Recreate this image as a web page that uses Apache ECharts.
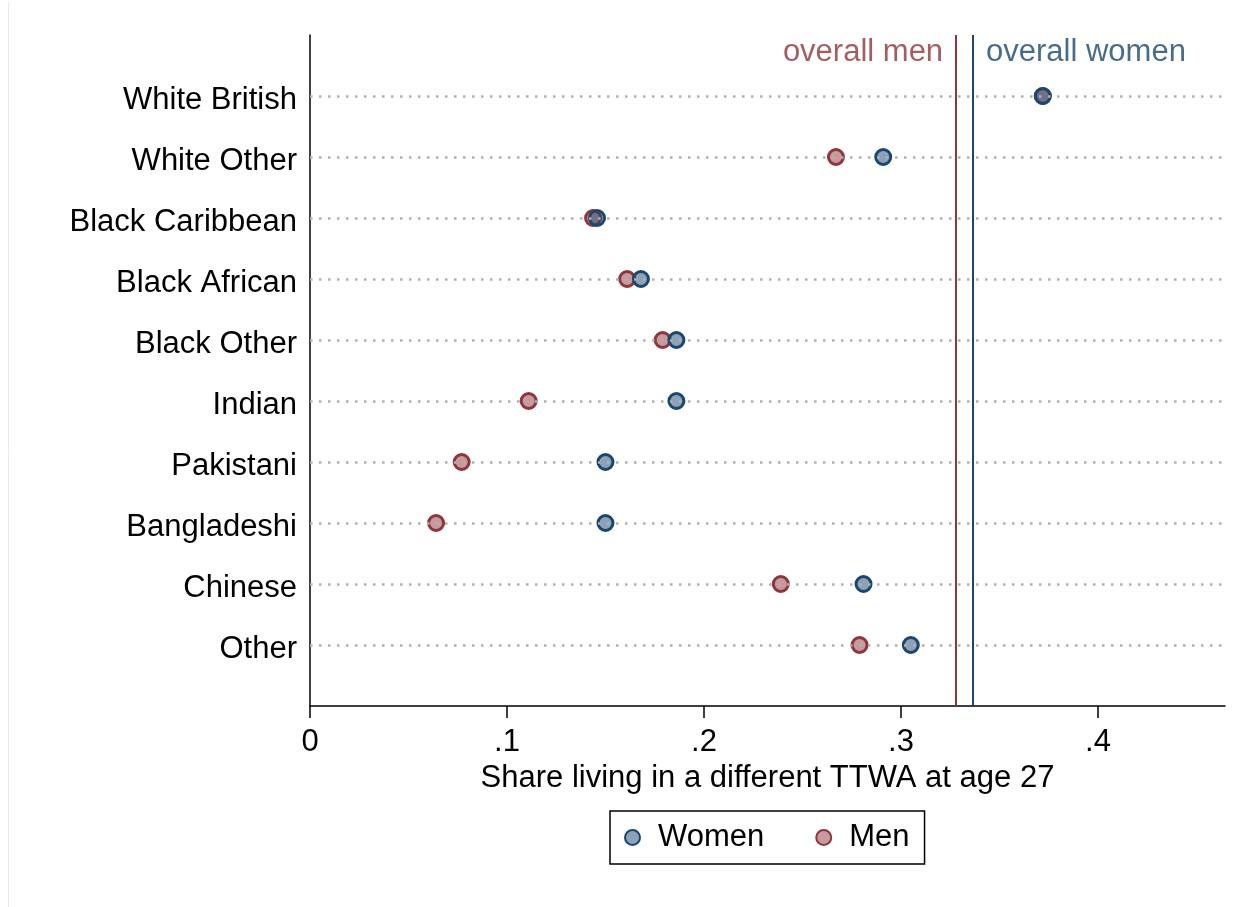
<!DOCTYPE html>
<html>
<head>
<meta charset="utf-8">
<script src="https://cdn.jsdelivr.net/npm/echarts@6/dist/echarts.min.js"></script>
<style>html,body{margin:0;padding:0;background:#fff;}#c{width:1255px;height:907px;}</style>
</head>
<body>
<div id="c"></div>
<script>
const categories = ['White British','White Other','Black Caribbean','Black African','Black Other','Indian','Pakistani','Bangladeshi','Chinese','Other'];
const women = [0.372, 0.291, 0.1457, 0.168, 0.186, 0.186, 0.150, 0.150, 0.281, 0.305];
const men   = [0.372, 0.267, 0.1437, 0.161, 0.179, 0.111, 0.077, 0.064, 0.239, 0.279];
const overallMen = 0.328;
const overallWomen = 0.3366;
const xTicks = [0, 0.1, 0.2, 0.3, 0.4];
const xTickLabels = ['0', '.1', '.2', '.3', '.4'];

const N = categories.length;
const pos = i => N - i; // White British at top
const FONT = "'Liberation Sans', Arial, Helvetica, sans-serif";
const WOMEN_C = '#1a476f', MEN_C = '#90353b';
const WOMEN_F = 'rgba(26,71,111,0.5)', MEN_F = 'rgba(144,53,59,0.5)';

const chart = echarts.init(document.getElementById('c'), null, {renderer: 'canvas'});
chart.setOption({
  animation: false,
  backgroundColor: '#fff',
  graphic: [{
    type: 'line', silent: true,
    shape: {x1: 8.5, y1: 2, x2: 8.5, y2: 907},
    style: {stroke: '#e6ebe8', lineWidth: 1}
  }],
  grid: {left: 310, right: 30, top: 35, bottom: 201, containLabel: false},
  xAxis: {
    type: 'value', min: 0, max: 0.4645,
    axisLine: {show: true, lineStyle: {color: '#000', width: 1.5}},
    axisTick: {show: true, length: 12, lineStyle: {color: '#000', width: 1.5}, customValues: xTicks},
    axisLabel: {customValues: xTicks, margin: 21, fontSize: 31, color: '#000', fontFamily: FONT,
      formatter: v => { const k = xTicks.findIndex(t => Math.abs(t - v) < 1e-9); return k >= 0 ? xTickLabels[k] : ''; }},
    splitLine: {show: false},
    name: 'Share living in a different TTWA at age 27',
    nameLocation: 'middle', nameGap: 52,
    nameTextStyle: {fontSize: 31, color: '#000', fontFamily: FONT}
  },
  yAxis: {
    type: 'value', min: 0, max: N + 1,
    axisLine: {show: true, lineStyle: {color: '#000', width: 1.5}},
    axisTick: {show: false},
    axisLabel: {customValues: categories.map((c, i) => pos(i)), margin: 13, fontSize: 31, color: '#000', fontFamily: FONT,
      verticalAlign: 'top', lineHeight: 8,
      formatter: v => categories[N - v] || ''},
    splitLine: {show: false}
  },
  legend: {
    data: ['Women', 'Men'],
    left: 610, top: 811,
    orient: 'horizontal',
    itemWidth: 15, itemHeight: 15, itemGap: 51,
    padding: [11, 15, 11, 14],
    borderColor: '#000', borderWidth: 1.5,
    textStyle: {fontSize: 31, color: '#000', fontFamily: FONT, padding: [0, 0, 0, 13]},
    icon: 'circle'
  },
  series: [
    {
      name: 'grid', type: 'scatter', data: [], z: 1, silent: true,
      markLine: {
        silent: true, symbol: 'none', animation: false, precision: 6,
        label: {show: false},
        lineStyle: {type: [2.5, 6.5], color: '#b0b0b0', width: 2.5},
        data: categories.map((c, i) => ({yAxis: pos(i)}))
      }
    },
    {
      name: 'overall', type: 'scatter', z: 2, silent: true, symbolSize: 0,
      data: [
        {value: [overallMen, 10.72], label: {show: true, position: 'left', distance: 13, formatter: 'overall men', color: MEN_C, fontSize: 31, fontFamily: FONT}},
        {value: [overallWomen, 10.72], label: {show: true, position: 'right', distance: 13, formatter: 'overall women', color: WOMEN_C, fontSize: 31, fontFamily: FONT}}
      ],
      markLine: {
        silent: true, symbol: 'none', animation: false, precision: 6,
        label: {show: false},
        data: [
          {xAxis: overallMen, lineStyle: {color: MEN_C, width: 2, type: 'solid'}},
          {xAxis: overallWomen, lineStyle: {color: WOMEN_C, width: 2, type: 'solid'}}
        ]
      }
    },
    {
      name: 'Men', type: 'scatter', z: 3, symbol: 'circle', symbolSize: 15,
      itemStyle: {color: MEN_F, borderColor: MEN_C, borderWidth: 3, opacity: 1},
      data: men.map((v, i) => [v, pos(i)])
    },
    {
      name: 'Women', type: 'scatter', z: 4, symbol: 'circle', symbolSize: 15,
      itemStyle: {color: WOMEN_F, borderColor: WOMEN_C, borderWidth: 3, opacity: 1},
      data: women.map((v, i) => [v, pos(i)])
    }
  ]
});
</script>
</body>
</html>
